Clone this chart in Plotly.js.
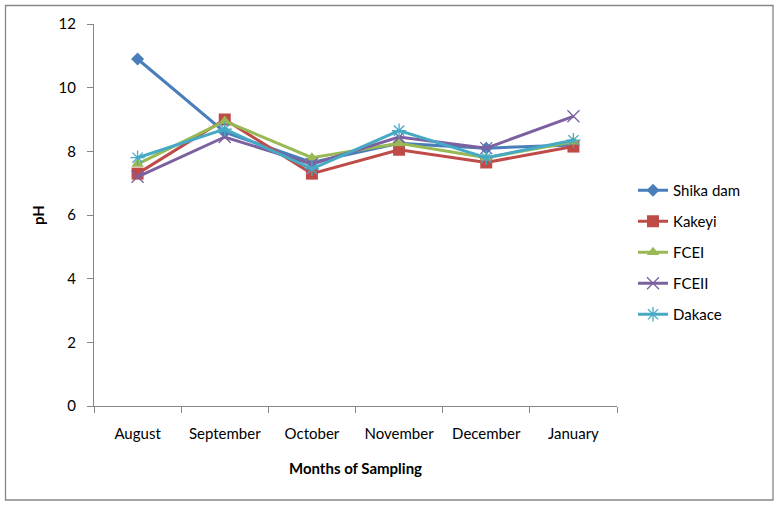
<!DOCTYPE html>
<html>
<head>
<meta charset="utf-8">
<script src="https://cdn.plot.ly/plotly-3.0.1.min.js"></script>
<style>html,body{margin:0;padding:0;background:#fff;}#chart{width:779px;height:505px;}</style>
</head>
<body>
<div id="chart"></div>
<script>
var months = ["August", "September", "October", "November", "December", "January"];
var seriesNames = ["Shika dam", "Kakeyi", "FCEI", "FCEII", "Dakace"];
var shikaDam = [10.9, 8.6, 7.65, 8.25, 8.1, 8.2];
var kakeyi = [7.3, 9.0, 7.3, 8.05, 7.65, 8.15];
var fcei = [7.6, 8.95, 7.8, 8.25, 7.8, 8.3];
var fceii = [7.2, 8.45, 7.6, 8.45, 8.1, 9.1];
var dakace = [7.8, 8.7, 7.45, 8.65, 7.8, 8.35];
var yTicks = [0, 2, 4, 6, 8, 10, 12];

var colors = ["#4A7EBB", "#BE4B48", "#98B954", "#7D60A0", "#46AAC5"];
var symbols = ["diamond", "square", "triangle-up", "x-thin-open", "asterisk-open"];
var sizes = [10, 12, 11, 12, 12];
var values = [shikaDam, kakeyi, fcei, fceii, dakace];

var traces = values.map(function (v, i) {
  return {
    x: months, y: v, name: seriesNames[i], type: "scatter", mode: "lines+markers",
    legendgroup: "g" + i,
    line: {color: colors[i], width: 3},
    marker: {symbol: symbols[i], size: sizes[i], color: colors[i],
             line: {color: colors[i], width: (i >= 3 ? 1.3 : 0)}}
  };
});

var fontFam = "Lato, 'Open Sans', sans-serif";
var fs = 15;
var layout = {
  width: 779, height: 505,
  margin: {l: 94, r: 162, t: 24, b: 99},
  paper_bgcolor: "#fff", plot_bgcolor: "#fff",
  font: {family: fontFam, size: fs, color: "#000"},
  xaxis: {
    type: "category", range: [-0.5, 5.5],
    showline: true, linecolor: "#868686", linewidth: 1,
    ticks: "outside", tickson: "boundaries", ticklen: 6, tickcolor: "#868686",
    showgrid: false, zeroline: false,
    tickfont: {family: fontFam, size: fs},
    ticklabelstandoff: 14,
    title: {text: "<b>Months of Sampling</b>", font: {family: fontFam, size: fs}, standoff: 22}
  },
  yaxis: {
    range: [0, 12], tickvals: yTicks, ticktext: yTicks.map(String),
    showline: true, linecolor: "#868686", linewidth: 1,
    ticks: "outside", ticklen: 6, tickcolor: "#868686",
    showgrid: false, zeroline: false,
    tickfont: {family: fontFam, size: fs},
    ticklabelstandoff: 8,
    title: {text: "<b>pH</b>", font: {family: fontFam, size: fs}, standoff: 10}
  },
  legend: {
    xref: "container", yref: "container",
    x: 633 / 779, xanchor: "left",
    y: 1 - 174 / 505, yanchor: "top",
    font: {family: fontFam, size: fs},
    tracegroupgap: 8.5,
    bgcolor: "rgba(0,0,0,0)"
  },
  shapes: [{
    type: "rect", xref: "paper", yref: "paper",
    x0: (5.5 - 94) / 523, x1: (773 - 94) / 523,
    y0: (406 - 500) / 382, y1: (406 - 5.5) / 382,
    line: {color: "#868686", width: 1.3}, fillcolor: "rgba(0,0,0,0)", layer: "below"
  }],
  showlegend: true
};

Plotly.newPlot("chart", traces, layout, {displayModeBar: false, staticPlot: true});
</script>
</body>
</html>
